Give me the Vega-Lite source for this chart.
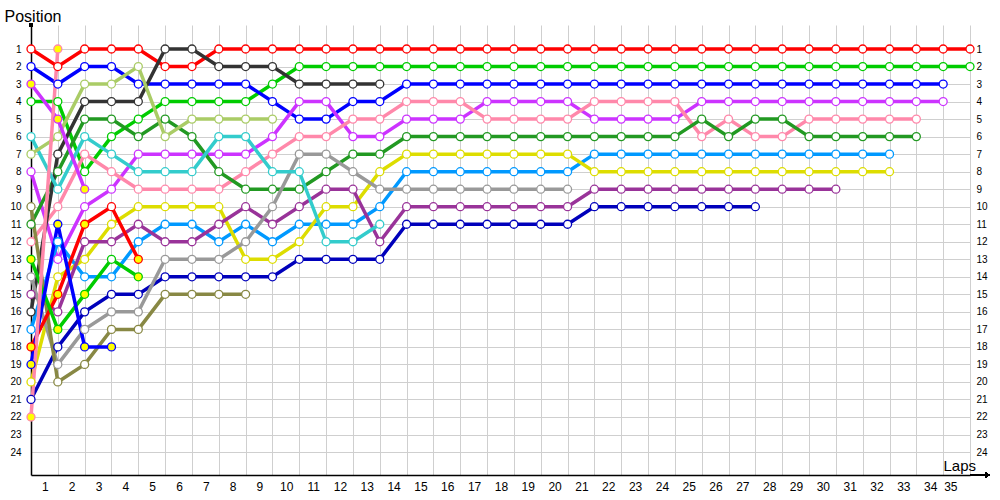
{
"$schema":"https://vega.github.io/schema/vega-lite/v6.json",
"width":939,"height":450,
"autosize":{"type":"none"},
"padding":{"left":31,"top":25,"right":30,"bottom":25},
"background":"white",
"config":{"view":{"stroke":null}},
"data":{"values":[
{"d":"r1","l":0,"p":1},{"d":"r1","l":1,"p":2},{"d":"r1","l":2,"p":1},{"d":"r1","l":3,"p":1},{"d":"r1","l":4,"p":1},{"d":"r1","l":5,"p":2},{"d":"r1","l":6,"p":2},{"d":"r1","l":7,"p":1},{"d":"r1","l":8,"p":1},{"d":"r1","l":9,"p":1},{"d":"r1","l":10,"p":1},{"d":"r1","l":11,"p":1},{"d":"r1","l":12,"p":1},{"d":"r1","l":13,"p":1},{"d":"r1","l":14,"p":1},{"d":"r1","l":15,"p":1},{"d":"r1","l":16,"p":1},{"d":"r1","l":17,"p":1},{"d":"r1","l":18,"p":1},{"d":"r1","l":19,"p":1},{"d":"r1","l":20,"p":1},{"d":"r1","l":21,"p":1},{"d":"r1","l":22,"p":1},{"d":"r1","l":23,"p":1},{"d":"r1","l":24,"p":1},{"d":"r1","l":25,"p":1},{"d":"r1","l":26,"p":1},{"d":"r1","l":27,"p":1},{"d":"r1","l":28,"p":1},{"d":"r1","l":29,"p":1},{"d":"r1","l":30,"p":1},{"d":"r1","l":31,"p":1},{"d":"r1","l":32,"p":1},{"d":"r1","l":33,"p":1},{"d":"r1","l":34,"p":1},{"d":"r1","l":35,"p":1},
{"d":"g1","l":0,"p":4},{"d":"g1","l":1,"p":4},{"d":"g1","l":2,"p":8},{"d":"g1","l":3,"p":6},{"d":"g1","l":4,"p":5},{"d":"g1","l":5,"p":4},{"d":"g1","l":6,"p":4},{"d":"g1","l":7,"p":4},{"d":"g1","l":8,"p":4},{"d":"g1","l":9,"p":3},{"d":"g1","l":10,"p":2},{"d":"g1","l":11,"p":2},{"d":"g1","l":12,"p":2},{"d":"g1","l":13,"p":2},{"d":"g1","l":14,"p":2},{"d":"g1","l":15,"p":2},{"d":"g1","l":16,"p":2},{"d":"g1","l":17,"p":2},{"d":"g1","l":18,"p":2},{"d":"g1","l":19,"p":2},{"d":"g1","l":20,"p":2},{"d":"g1","l":21,"p":2},{"d":"g1","l":22,"p":2},{"d":"g1","l":23,"p":2},{"d":"g1","l":24,"p":2},{"d":"g1","l":25,"p":2},{"d":"g1","l":26,"p":2},{"d":"g1","l":27,"p":2},{"d":"g1","l":28,"p":2},{"d":"g1","l":29,"p":2},{"d":"g1","l":30,"p":2},{"d":"g1","l":31,"p":2},{"d":"g1","l":32,"p":2},{"d":"g1","l":33,"p":2},{"d":"g1","l":34,"p":2},{"d":"g1","l":35,"p":2},
{"d":"b1","l":0,"p":2},{"d":"b1","l":1,"p":3},{"d":"b1","l":2,"p":2},{"d":"b1","l":3,"p":2},{"d":"b1","l":4,"p":3},{"d":"b1","l":5,"p":3},{"d":"b1","l":6,"p":3},{"d":"b1","l":7,"p":3},{"d":"b1","l":8,"p":3},{"d":"b1","l":9,"p":4},{"d":"b1","l":10,"p":5},{"d":"b1","l":11,"p":5},{"d":"b1","l":12,"p":4},{"d":"b1","l":13,"p":4},{"d":"b1","l":14,"p":3},{"d":"b1","l":15,"p":3},{"d":"b1","l":16,"p":3},{"d":"b1","l":17,"p":3},{"d":"b1","l":18,"p":3},{"d":"b1","l":19,"p":3},{"d":"b1","l":20,"p":3},{"d":"b1","l":21,"p":3},{"d":"b1","l":22,"p":3},{"d":"b1","l":23,"p":3},{"d":"b1","l":24,"p":3},{"d":"b1","l":25,"p":3},{"d":"b1","l":26,"p":3},{"d":"b1","l":27,"p":3},{"d":"b1","l":28,"p":3},{"d":"b1","l":29,"p":3},{"d":"b1","l":30,"p":3},{"d":"b1","l":31,"p":3},{"d":"b1","l":32,"p":3},{"d":"b1","l":33,"p":3},{"d":"b1","l":34,"p":3},
{"d":"v1","l":0,"p":8},{"d":"v1","l":1,"p":13},{"d":"v1","l":2,"p":10},{"d":"v1","l":3,"p":9},{"d":"v1","l":4,"p":7},{"d":"v1","l":5,"p":7},{"d":"v1","l":6,"p":7},{"d":"v1","l":7,"p":7},{"d":"v1","l":8,"p":7},{"d":"v1","l":9,"p":6},{"d":"v1","l":10,"p":4},{"d":"v1","l":11,"p":4},{"d":"v1","l":12,"p":6},{"d":"v1","l":13,"p":6},{"d":"v1","l":14,"p":5},{"d":"v1","l":15,"p":5},{"d":"v1","l":16,"p":5},{"d":"v1","l":17,"p":4},{"d":"v1","l":18,"p":4},{"d":"v1","l":19,"p":4},{"d":"v1","l":20,"p":4},{"d":"v1","l":21,"p":5},{"d":"v1","l":22,"p":5},{"d":"v1","l":23,"p":5},{"d":"v1","l":24,"p":5},{"d":"v1","l":25,"p":4},{"d":"v1","l":26,"p":4},{"d":"v1","l":27,"p":4},{"d":"v1","l":28,"p":4},{"d":"v1","l":29,"p":4},{"d":"v1","l":30,"p":4},{"d":"v1","l":31,"p":4},{"d":"v1","l":32,"p":4},{"d":"v1","l":33,"p":4},{"d":"v1","l":34,"p":4},
{"d":"k1","l":0,"p":12},{"d":"k1","l":1,"p":10},{"d":"k1","l":2,"p":7},{"d":"k1","l":3,"p":8},{"d":"k1","l":4,"p":9},{"d":"k1","l":5,"p":9},{"d":"k1","l":6,"p":9},{"d":"k1","l":7,"p":9},{"d":"k1","l":8,"p":8},{"d":"k1","l":9,"p":7},{"d":"k1","l":10,"p":6},{"d":"k1","l":11,"p":6},{"d":"k1","l":12,"p":5},{"d":"k1","l":13,"p":5},{"d":"k1","l":14,"p":4},{"d":"k1","l":15,"p":4},{"d":"k1","l":16,"p":4},{"d":"k1","l":17,"p":5},{"d":"k1","l":18,"p":5},{"d":"k1","l":19,"p":5},{"d":"k1","l":20,"p":5},{"d":"k1","l":21,"p":4},{"d":"k1","l":22,"p":4},{"d":"k1","l":23,"p":4},{"d":"k1","l":24,"p":4},{"d":"k1","l":25,"p":6},{"d":"k1","l":26,"p":5},{"d":"k1","l":27,"p":6},{"d":"k1","l":28,"p":6},{"d":"k1","l":29,"p":5},{"d":"k1","l":30,"p":5},{"d":"k1","l":31,"p":5},{"d":"k1","l":32,"p":5},{"d":"k1","l":33,"p":5},
{"d":"f","l":0,"p":11},{"d":"f","l":1,"p":8},{"d":"f","l":2,"p":5},{"d":"f","l":3,"p":5},{"d":"f","l":4,"p":6},{"d":"f","l":5,"p":5},{"d":"f","l":6,"p":6},{"d":"f","l":7,"p":8},{"d":"f","l":8,"p":9},{"d":"f","l":9,"p":9},{"d":"f","l":10,"p":9},{"d":"f","l":11,"p":8},{"d":"f","l":12,"p":7},{"d":"f","l":13,"p":7},{"d":"f","l":14,"p":6},{"d":"f","l":15,"p":6},{"d":"f","l":16,"p":6},{"d":"f","l":17,"p":6},{"d":"f","l":18,"p":6},{"d":"f","l":19,"p":6},{"d":"f","l":20,"p":6},{"d":"f","l":21,"p":6},{"d":"f","l":22,"p":6},{"d":"f","l":23,"p":6},{"d":"f","l":24,"p":6},{"d":"f","l":25,"p":5},{"d":"f","l":26,"p":6},{"d":"f","l":27,"p":5},{"d":"f","l":28,"p":5},{"d":"f","l":29,"p":6},{"d":"f","l":30,"p":6},{"d":"f","l":31,"p":6},{"d":"f","l":32,"p":6},{"d":"f","l":33,"p":6},
{"d":"db","l":0,"p":17},{"d":"db","l":1,"p":12},{"d":"db","l":2,"p":14},{"d":"db","l":3,"p":14},{"d":"db","l":4,"p":12},{"d":"db","l":5,"p":11},{"d":"db","l":6,"p":11},{"d":"db","l":7,"p":12},{"d":"db","l":8,"p":11},{"d":"db","l":9,"p":12},{"d":"db","l":10,"p":11},{"d":"db","l":11,"p":11},{"d":"db","l":12,"p":11},{"d":"db","l":13,"p":10},{"d":"db","l":14,"p":8},{"d":"db","l":15,"p":8},{"d":"db","l":16,"p":8},{"d":"db","l":17,"p":8},{"d":"db","l":18,"p":8},{"d":"db","l":19,"p":8},{"d":"db","l":20,"p":8},{"d":"db","l":21,"p":7},{"d":"db","l":22,"p":7},{"d":"db","l":23,"p":7},{"d":"db","l":24,"p":7},{"d":"db","l":25,"p":7},{"d":"db","l":26,"p":7},{"d":"db","l":27,"p":7},{"d":"db","l":28,"p":7},{"d":"db","l":29,"p":7},{"d":"db","l":30,"p":7},{"d":"db","l":31,"p":7},{"d":"db","l":32,"p":7},
{"d":"ye","l":0,"p":20},{"d":"ye","l":1,"p":14},{"d":"ye","l":2,"p":13},{"d":"ye","l":3,"p":11},{"d":"ye","l":4,"p":10},{"d":"ye","l":5,"p":10},{"d":"ye","l":6,"p":10},{"d":"ye","l":7,"p":10},{"d":"ye","l":8,"p":13},{"d":"ye","l":9,"p":13},{"d":"ye","l":10,"p":12},{"d":"ye","l":11,"p":10},{"d":"ye","l":12,"p":10},{"d":"ye","l":13,"p":8},{"d":"ye","l":14,"p":7},{"d":"ye","l":15,"p":7},{"d":"ye","l":16,"p":7},{"d":"ye","l":17,"p":7},{"d":"ye","l":18,"p":7},{"d":"ye","l":19,"p":7},{"d":"ye","l":20,"p":7},{"d":"ye","l":21,"p":8},{"d":"ye","l":22,"p":8},{"d":"ye","l":23,"p":8},{"d":"ye","l":24,"p":8},{"d":"ye","l":25,"p":8},{"d":"ye","l":26,"p":8},{"d":"ye","l":27,"p":8},{"d":"ye","l":28,"p":8},{"d":"ye","l":29,"p":8},{"d":"ye","l":30,"p":8},{"d":"ye","l":31,"p":8},{"d":"ye","l":32,"p":8},
{"d":"pu","l":0,"p":15},{"d":"pu","l":1,"p":16},{"d":"pu","l":2,"p":12},{"d":"pu","l":3,"p":12},{"d":"pu","l":4,"p":11},{"d":"pu","l":5,"p":12},{"d":"pu","l":6,"p":12},{"d":"pu","l":7,"p":11},{"d":"pu","l":8,"p":10},{"d":"pu","l":9,"p":11},{"d":"pu","l":10,"p":10},{"d":"pu","l":11,"p":9},{"d":"pu","l":12,"p":9},{"d":"pu","l":13,"p":12},{"d":"pu","l":14,"p":10},{"d":"pu","l":15,"p":10},{"d":"pu","l":16,"p":10},{"d":"pu","l":17,"p":10},{"d":"pu","l":18,"p":10},{"d":"pu","l":19,"p":10},{"d":"pu","l":20,"p":10},{"d":"pu","l":21,"p":9},{"d":"pu","l":22,"p":9},{"d":"pu","l":23,"p":9},{"d":"pu","l":24,"p":9},{"d":"pu","l":25,"p":9},{"d":"pu","l":26,"p":9},{"d":"pu","l":27,"p":9},{"d":"pu","l":28,"p":9},{"d":"pu","l":29,"p":9},{"d":"pu","l":30,"p":9},
{"d":"n","l":0,"p":21},{"d":"n","l":1,"p":18},{"d":"n","l":2,"p":16},{"d":"n","l":3,"p":15},{"d":"n","l":4,"p":15},{"d":"n","l":5,"p":14},{"d":"n","l":6,"p":14},{"d":"n","l":7,"p":14},{"d":"n","l":8,"p":14},{"d":"n","l":9,"p":14},{"d":"n","l":10,"p":13},{"d":"n","l":11,"p":13},{"d":"n","l":12,"p":13},{"d":"n","l":13,"p":13},{"d":"n","l":14,"p":11},{"d":"n","l":15,"p":11},{"d":"n","l":16,"p":11},{"d":"n","l":17,"p":11},{"d":"n","l":18,"p":11},{"d":"n","l":19,"p":11},{"d":"n","l":20,"p":11},{"d":"n","l":21,"p":10},{"d":"n","l":22,"p":10},{"d":"n","l":23,"p":10},{"d":"n","l":24,"p":10},{"d":"n","l":25,"p":10},{"d":"n","l":26,"p":10},{"d":"n","l":27,"p":10},
{"d":"d1","l":0,"p":16},{"d":"d1","l":1,"p":7},{"d":"d1","l":2,"p":4},{"d":"d1","l":3,"p":4},{"d":"d1","l":4,"p":4},{"d":"d1","l":5,"p":1},{"d":"d1","l":6,"p":1},{"d":"d1","l":7,"p":2},{"d":"d1","l":8,"p":2},{"d":"d1","l":9,"p":2},{"d":"d1","l":10,"p":3},{"d":"d1","l":11,"p":3},{"d":"d1","l":12,"p":3},{"d":"d1","l":13,"p":3},
{"d":"gy","l":0,"p":14},{"d":"gy","l":1,"p":19},{"d":"gy","l":2,"p":17},{"d":"gy","l":3,"p":16},{"d":"gy","l":4,"p":16},{"d":"gy","l":5,"p":13},{"d":"gy","l":6,"p":13},{"d":"gy","l":7,"p":13},{"d":"gy","l":8,"p":12},{"d":"gy","l":9,"p":10},{"d":"gy","l":10,"p":7},{"d":"gy","l":11,"p":7},{"d":"gy","l":12,"p":8},{"d":"gy","l":13,"p":9},{"d":"gy","l":14,"p":9},{"d":"gy","l":15,"p":9},{"d":"gy","l":16,"p":9},{"d":"gy","l":17,"p":9},{"d":"gy","l":18,"p":9},{"d":"gy","l":19,"p":9},{"d":"gy","l":20,"p":9},
{"d":"c","l":0,"p":6},{"d":"c","l":1,"p":9},{"d":"c","l":2,"p":6},{"d":"c","l":3,"p":7},{"d":"c","l":4,"p":8},{"d":"c","l":5,"p":8},{"d":"c","l":6,"p":8},{"d":"c","l":7,"p":6},{"d":"c","l":8,"p":6},{"d":"c","l":9,"p":8},{"d":"c","l":10,"p":8},{"d":"c","l":11,"p":12},{"d":"c","l":12,"p":12},{"d":"c","l":13,"p":11},
{"d":"yg","l":0,"p":7},{"d":"yg","l":1,"p":6},{"d":"yg","l":2,"p":3},{"d":"yg","l":3,"p":3},{"d":"yg","l":4,"p":2},{"d":"yg","l":5,"p":6},{"d":"yg","l":6,"p":5},{"d":"yg","l":7,"p":5},{"d":"yg","l":8,"p":5},{"d":"yg","l":9,"p":5},
{"d":"o","l":0,"p":10},{"d":"o","l":1,"p":20},{"d":"o","l":2,"p":19},{"d":"o","l":3,"p":17},{"d":"o","l":4,"p":17},{"d":"o","l":5,"p":15},{"d":"o","l":6,"p":15},{"d":"o","l":7,"p":15},{"d":"o","l":8,"p":15},
{"d":"r2","l":0,"p":18,"y":1},{"d":"r2","l":1,"p":15,"y":1},{"d":"r2","l":2,"p":11,"y":1},{"d":"r2","l":3,"p":10},{"d":"r2","l":4,"p":13,"y":1},
{"d":"g2","l":0,"p":13,"y":1},{"d":"g2","l":1,"p":17,"y":1},{"d":"g2","l":2,"p":15,"y":1},{"d":"g2","l":3,"p":13},{"d":"g2","l":4,"p":14,"y":1},
{"d":"b2","l":0,"p":19,"y":1},{"d":"b2","l":1,"p":11,"y":1},{"d":"b2","l":2,"p":18,"y":1},{"d":"b2","l":3,"p":18,"y":1},
{"d":"v2","l":0,"p":3,"y":1},{"d":"v2","l":1,"p":5,"y":1},{"d":"v2","l":2,"p":9,"y":1},
{"d":"k2","l":0,"p":22,"y":1},{"d":"k2","l":1,"p":1,"y":1}
]},
"layer":[
 {"mark":{"type":"line","strokeWidth":3.5},
  "encoding":{
   "x":{"field":"l","type":"quantitative","scale":{"domain":[0,35],"nice":false,"zero":false},
    "axis":{"values":[1,2,3,4,5,6,7,8,9,10,11,12,13,14,15,16,17,18,19,20,21,22,23,24,25,26,27,28,29,30,31,32,33,34,35],
     "labelOverlap":false,
     "grid":true,"gridColor":"#cfcfcf","gridWidth":1,"ticks":false,"domainColor":"#000000","domainWidth":1.5,
     "labelOffset":-13,"labelPadding":6,"labelFont":"Liberation Sans","labelFontSize":12,"labelColor":"#000000",
     "title":"Laps","titleFont":"Liberation Sans","titleFontSize":15,"titleFontWeight":"normal","titleColor":"#000000",
     "titleX":912,"titleY":-5,"titleAlign":"left","titleBaseline":"alphabetic"}},
   "y":{"field":"p","type":"quantitative","scale":{"domain":[-0.37,25.31],"reverse":true,"nice":false,"zero":false},
    "axis":{"values":[1,2,3,4,5,6,7,8,9,10,11,12,13,14,15,16,17,18,19,20,21,22,23,24],
     "grid":true,"gridColor":"#cfcfcf","gridWidth":1,"ticks":false,"domainColor":"#000000","domainWidth":1.5,
     "labelPadding":10,"labelFont":"Liberation Sans","labelFontSize":10,"labelColor":"#000000",
     "title":"Position","titleFont":"Liberation Sans","titleFontSize":16,"titleFontWeight":"normal","titleColor":"#000000",
     "titleAngle":0,"titleX":-27,"titleY":-4,"titleAlign":"left","titleBaseline":"alphabetic"}},
   "color":{"field":"d","type":"nominal","legend":null,
    "scale":{"domain":["r1","r2","g1","g2","b1","b2","v1","v2","k1","k2","f","d1","yg","c","pu","db","ye","gy","n","o"],
     "range":["#ff0000","#ff0000","#00cc00","#00cc00","#0000ff","#0000ff","#cc33ff","#cc33ff","#ff88aa","#ff88aa","#229922","#333333","#aacc66","#33cccc","#993399","#0099ff","#dddd00","#999999","#0000bb","#888844"]}},
   "order":{"field":"l","type":"quantitative"}
  }},
 {"mark":{"type":"point","shape":"circle","size":64,"strokeWidth":1.3,"opacity":1,"fillOpacity":1,"filled":false},
  "encoding":{
   "x":{"field":"l","type":"quantitative","axis":null},
   "y":{"field":"p","type":"quantitative",
    "axis":{"orient":"right","values":[1,2,3,4,5,6,7,8,9,10,11,12,13,14,15,16,17,18,19,20,21,22,23,24],
     "grid":false,"ticks":false,"domain":false,"labelPadding":6,"labelFont":"Liberation Sans","labelFontSize":10,"labelColor":"#000000","title":null}},
   "stroke":{"field":"d","type":"nominal","legend":null,
    "scale":{"domain":["r1","r2","g1","g2","b1","b2","v1","v2","k1","k2","f","d1","yg","c","pu","db","ye","gy","n","o"],
     "range":["#ff0000","#ff0000","#00cc00","#00cc00","#0000ff","#0000ff","#cc33ff","#cc33ff","#ff88aa","#ff88aa","#229922","#333333","#aacc66","#33cccc","#993399","#0099ff","#dddd00","#999999","#0000bb","#888844"]}},
   "fill":{"condition":{"test":"datum.y == 1","value":"#ffff00"},"value":"#ffffff"}
  }},
 {"mark":{"type":"rule","color":"#000000","strokeWidth":1.5,"clip":false},
  "encoding":{
   "x":{"datum":35,"type":"quantitative","axis":null},
   "x2":{"datum":35.6},
   "y":{"datum":25.31,"type":"quantitative","axis":null}
  }},
 {"mark":{"type":"point","shape":"triangle-right","filled":true,"color":"#000000","size":30,"opacity":1,"clip":false},
  "encoding":{
   "x":{"datum":35.65,"type":"quantitative","axis":null},
   "y":{"datum":25.31,"type":"quantitative","axis":null}
  }},
 {"mark":{"type":"point","shape":"circle","filled":true,"color":"#000000","size":14,"opacity":1,"clip":false},
  "encoding":{
   "x":{"datum":0,"type":"quantitative","axis":null},
   "y":{"datum":-0.37,"type":"quantitative","axis":null}
  }}
],
"resolve":{"axis":{"x":"independent","y":"independent"}}
}
